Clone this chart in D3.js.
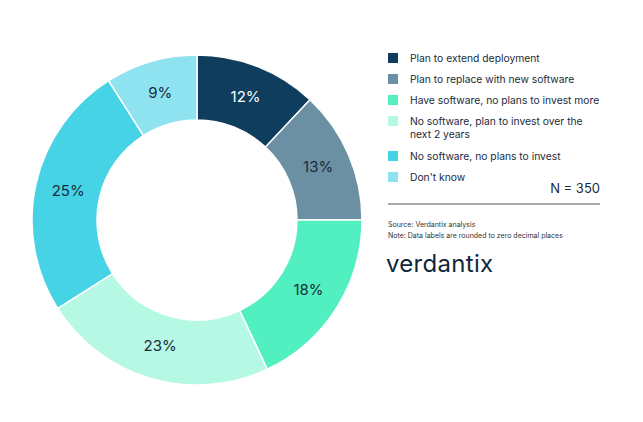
<!DOCTYPE html>
<html><head><meta charset="utf-8">
<script src="https://cdn.jsdelivr.net/npm/d3@7"></script>
<style>body{margin:0;background:#fff}text{font-family:Inter,"Open Sans",sans-serif}</style>
</head><body><svg id="c" width="643" height="422"></svg>
<script>
var categories = ['Plan to extend deployment','Plan to replace with new software','Have software, no plans to invest more','No software, plan to invest over the|next 2 years','No software, no plans to invest',"Don't know"];
var values = [12,13,18,23,25,9];
var colors = ['#0f3d5e','#6b8fa3','#52efc0','#b5f8e4','#47d3e6','#8fe3f1'];

var svg = d3.select('#c');
var g = svg.append('g').attr('transform','translate(197,220)');
var pie = d3.pie().sort(null).value(function(d){return d;});
var arc = d3.arc().innerRadius(100).outerRadius(165);
var labelArc = d3.arc().innerRadius(132).outerRadius(132);
var arcs = pie(values);
g.selectAll('path').data(arcs).enter().append('path')
  .attr('d',arc).attr('fill',function(d,i){return colors[i];})
  .attr('stroke','#fff').attr('stroke-width',1.5);
g.selectAll('text').data(arcs).enter().append('text')
  .attr('transform',function(d){return 'translate('+labelArc.centroid(d)+')';})
  .attr('text-anchor','middle').attr('dy','0.3em')
  .attr('font-size',15).attr('fill',function(d,i){return i===0?'#fff':'#1a2b3a';})
  .text(function(d){return d.data+'%';});

// legend
var ys = [58,79,100,121,156,177];
var leg = svg.append('g');
categories.forEach(function(c,i){
  leg.append('rect').attr('x',388).attr('y',ys[i]-5).attr('width',10).attr('height',10).attr('fill',colors[i]);
  c.split('|').forEach(function(line,j){
    leg.append('text').attr('x',410).attr('y',ys[i]+4+j*13).attr('font-size',10.3).attr('fill','#1a2b3a').text(line);
  });
});
svg.append('text').attr('x',600).attr('y',193).attr('text-anchor','end').attr('font-size',13).attr('fill','#1a2b3a').text('N = 350');
svg.append('line').attr('x1',388).attr('x2',600).attr('y1',204).attr('y2',204).attr('stroke','#555').attr('stroke-width',1);
svg.append('text').attr('x',388).attr('y',227).attr('font-size',7).attr('fill','#333').text('Source: Verdantix analysis');
svg.append('text').attr('x',388).attr('y',238).attr('font-size',7).attr('fill','#333').text('Note: Data labels are rounded to zero decimal places');
svg.append('text').attr('x',386).attr('y',272).attr('font-size',24).attr('fill','#12263a').attr('letter-spacing',0.3).text('verdantix');
</script></body></html>
